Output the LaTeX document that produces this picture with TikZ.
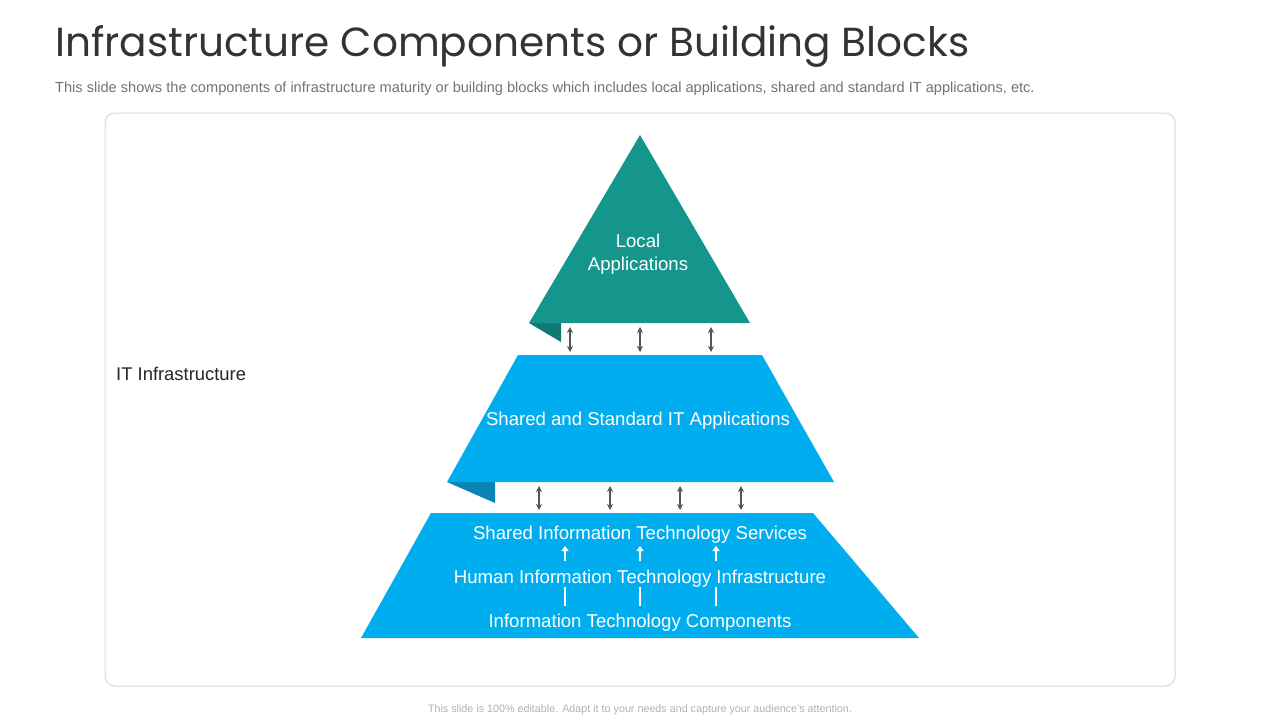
\documentclass[tikz,border=0pt]{standalone}
\usepackage{fontspec}
\setmainfont{Liberation Sans}
\newfontfamily\titlefont{Poppins}
\usetikzlibrary{arrows.meta}
\definecolor{tealA}{HTML}{14968C}
\definecolor{tealD}{HTML}{0E7A73}
\definecolor{blueA}{HTML}{00AEEF}
\definecolor{blueD}{HTML}{0A84B3}
\definecolor{arrowgray}{HTML}{555555}
\tikzset{
  dblarrow/.style={draw=arrowgray, line width=1.3pt, {Stealth[length=6pt,width=6pt]}-{Stealth[length=6pt,width=6pt]}},
  uparrow/.style={draw=white, line width=2pt, -{Triangle[length=5pt,width=7pt]}},
  bar/.style={draw=white, line width=2pt},
  whitetext/.style={text=white, font=\fontsize{18.6}{23}\selectfont, inner sep=0pt, align=center},
}
\begin{document}
\begin{tikzpicture}[x=1pt,y=-1pt]
\useasboundingbox (0,0) rectangle (1280,720);
\fill[white] (0,0) rectangle (1280,720);
% title
\node[anchor=west, inner sep=0pt, text=black!80] (title) at (55,46) {\titlefont\fontsize{40.6}{48}\selectfont Infrastructure Components or Building Blocks};
\node[anchor=west, inner sep=0pt, text=black!55] (sub) at (55,89) {\fontsize{14.6}{17}\selectfont This slide shows the components of infrastructure maturity or building blocks which includes local applications, shared and standard IT applications, etc.};
% frame
\draw[black!15, line width=1pt, rounded corners=10pt] (105,113) rectangle (1175,686);
% shapes
\fill[tealD] (529,323) -- (561,323) -- (561,342) -- cycle;
\fill[tealA] (640,135) -- (750,323) -- (529,323) -- cycle;
\fill[blueD] (447,482) -- (495,482) -- (495,503) -- cycle;
\fill[blueA] (518,355) -- (762,355) -- (834,482) -- (447,482) -- cycle;
\fill[blueA] (431,513) -- (813,513) -- (919,638) -- (361,638) -- cycle;
% labels
\node[whitetext] (local) at (638,254) {Local\\Applications};
\node[whitetext] (shared) at (638,421) {Shared and Standard IT Applications};
\node[whitetext] (sits) at (640,535) {Shared Information Technology Services};
\node[whitetext] (hiti) at (640,579) {Human Information Technology Infrastructure};
\node[whitetext] (itc) at (640,623) {Information Technology Components};
\node[anchor=west, inner sep=0pt, text=black!85, font=\fontsize{18.4}{22}\selectfont] (itinf) at (116,374) {IT Infrastructure};
\node[inner sep=0pt, text=black!30, font=\fontsize{10.75}{13}\selectfont] (foot) at (640,710) {This slide is 100\% editable. Adapt it to your needs and capture your audience's attention.};
% double arrows top
\foreach \i/\x in {1/570,2/640,3/711}{
  \coordinate (ta\i) at (\x,327);
  \coordinate (tb\i) at (\x,352);
  \draw[dblarrow] (ta\i) -- (tb\i);
}
\foreach \i/\x in {1/539,2/610,3/680,4/741}{
  \coordinate (ma\i) at (\x,486);
  \coordinate (mb\i) at (\x,510);
  \draw[dblarrow] (ma\i) -- (mb\i);
}
% inner white arrows
\foreach \i/\x in {1/565,2/640,3/716}{
  \coordinate (ua\i) at (\x,561);
  \coordinate (ub\i) at (\x,546);
  \draw[uparrow] (ua\i) -- (ub\i);
  \coordinate (ba\i) at (\x,587);
  \coordinate (bb\i) at (\x,606);
  \draw[bar] (ba\i) -- (bb\i);
}
\end{tikzpicture}
\end{document}
